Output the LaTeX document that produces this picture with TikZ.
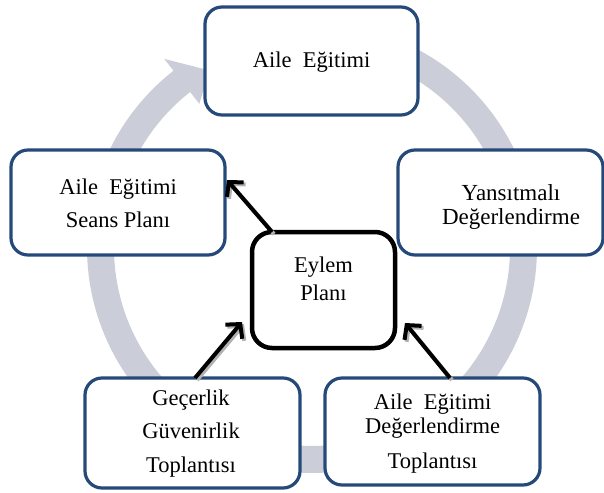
\documentclass[tikz,border=0pt]{standalone}
\usepackage{fontspec}
\setmainfont{Liberation Serif}
\usetikzlibrary{arrows.meta,calc}
\definecolor{boxblue}{RGB}{37,73,121}
\definecolor{ringgray}{RGB}{203,206,216}
\begin{document}
\begin{tikzpicture}[x=1pt,y=-1pt,
  bluebox/.style={draw=boxblue, line width=3.2pt, rounded corners=17pt, fill=white,
    inner sep=0pt, outer sep=0pt, rectangle},
  blackbox/.style={draw=black, line width=4.5pt, rounded corners=20pt, fill=white,
    inner sep=0pt, outer sep=0pt, rectangle},
  txt/.style={anchor=base, inner sep=0pt, font=\fontsize{22.5}{24}\selectfont},
  txtr/.style={anchor=base, inner sep=0pt, font=\fontsize{23}{24}\selectfont},
  conn/.style={draw=black, line width=4pt, -{Straight Barb[length=10pt,width=22pt]}},
  connshadow/.style={draw=black!30, line width=4pt, -{Straight Barb[length=10pt,width=22pt]}}
]
\useasboundingbox (0,0) rectangle (604,492);
% ring with arrowhead
\fill[ringgray]
  plot[domain=-70:232,samples=150] ({312+225*cos(\x)},{248+225*sin(\x)})
  -- ({312+240*cos(232)},{248+240*sin(232)})
  -- ({312+205*cos(240)},{248+205*sin(240)})
  -- ({312+183*cos(232)},{248+183*sin(232)})
  -- plot[domain=232:-70,samples=150] ({312+198*cos(\x)},{248+198*sin(\x)})
  -- cycle;
% boxes
\node[bluebox, minimum width=213pt, minimum height=108pt] (top) at (311.5,61) {};
\node[bluebox, minimum width=214pt, minimum height=105pt] (lft) at (118,202.5) {};
\node[bluebox, minimum width=205pt, minimum height=105pt] (rgt) at (500.5,202.5) {};
\node[bluebox, minimum width=215pt, minimum height=110pt] (bl) at (192.5,433) {};
\node[bluebox, minimum width=215pt, minimum height=107pt] (br) at (432.5,431.5) {};
\node[blackbox, minimum width=143pt, minimum height=116pt] (cen) at (323.5,290) {};
% texts
\node[txt] (t1) at (311.5,68) {Aile\ \ Eğitimi};
\node[txt] (l1) at (118,194) {Aile\ \ Eğitimi};
\node[txt] (l2) at (118,227) {Seans Planı};
\node[txtr] (r1) at (511,200) {Yansıtmalı};
\node[txtr] (r2) at (511,224) {Değerlendirme};
\node[txt] (c1) at (323.5,272) {Eylem};
\node[txt] (c2) at (323.5,300) {Planı};
\node[txt] (b1) at (191,405) {Geçerlik};
\node[txt] (b2) at (191,438.5) {Güvenirlik};
\node[txt] (b3) at (191,472) {Toplantısı};
\node[txt] (e1) at (432.5,409) {Aile\ \ Eğitimi};
\node[txt] (e2) at (432.5,433) {Değerlendirme};
\node[txt] (e3) at (432.5,468.5) {Toplantısı};
% connector endpoints
\coordinate (a1s) at ($(cen.north west)+(20,0)$);
\coordinate (a1e) at ($(lft.east)+(2,-22.5)$);
\coordinate (a2s) at ($(bl.north)+(2.5,0)$);
\coordinate (a2e) at ($(cen.west)+(-10,32)$);
\coordinate (a3s) at ($(br.north)+(17.5,0)$);
\coordinate (a3e) at ($(cen.east)+(10,33)$);
% shadows
\draw[connshadow] ($(a1s)+(2,2)$) -- ($(a1e)+(2,2)$);
\draw[connshadow] ($(a2s)+(2,2)$) -- ($(a2e)+(2,2)$);
\draw[connshadow] ($(a3s)+(2,2)$) -- ($(a3e)+(2,2)$);
% arrows
\draw[conn] (a1s) -- (a1e);
\draw[conn] (a2s) -- (a2e);
\draw[conn] (a3s) -- (a3e);
\end{tikzpicture}
\end{document}
